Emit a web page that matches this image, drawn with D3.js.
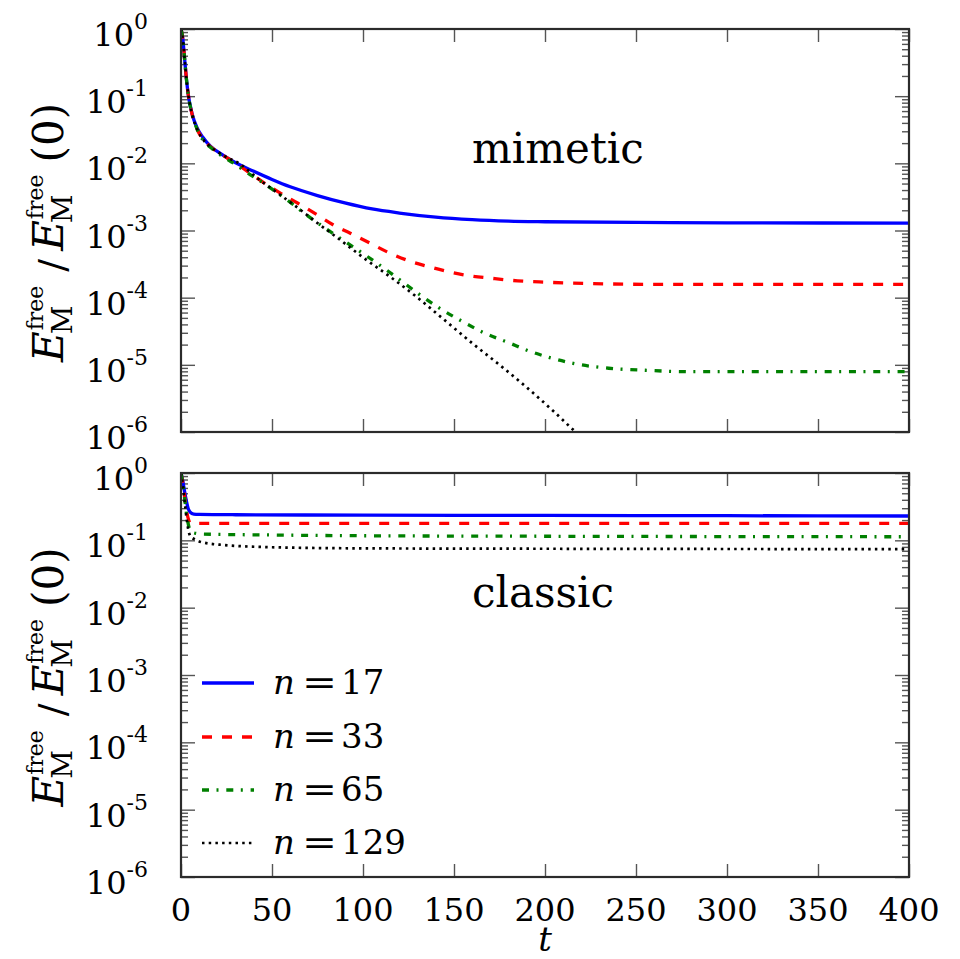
<!DOCTYPE html>
<html><head><meta charset="utf-8">
<script src="https://cdn.jsdelivr.net/npm/d3@7"></script>
<style>body{margin:0;background:#fff}svg{display:block}</style>
</head><body>
<svg id="c" width="960" height="959"></svg>
<script>
// ---------------- data ----------------
const nValues = ["17", "33", "65", "129"];
const colors = ["#0000ff", "#ff0000", "#008000", "#000000"];
const xTicks = [0, 50, 100, 150, 200, 250, 300, 350, 400];
const yDecades = [0, -1, -2, -3, -4, -5, -6];

// mimetic panel
const tM17 = [0, 1, 2, 3, 4, 6, 9, 12, 16, 22, 30, 40, 50, 60, 75, 90, 105, 120, 140, 160, 180, 200, 250, 300, 400];
const vM17 = [1, 0.71, 0.355, 0.178, 0.105, 0.056, 0.033, 0.0245, 0.0182, 0.0138, 0.0102, 0.0076, 0.00575, 0.00447, 0.00331, 0.00257, 0.00209, 0.00182, 0.00158, 0.00145, 0.00138, 0.00135, 0.00132, 0.0013, 0.00129];
const tM33 = [0, 1, 2, 3, 4, 6, 9, 12, 17, 23, 29, 37, 45, 55, 64, 75, 84, 93, 104, 115, 125, 135, 148, 160, 170, 185, 200, 225, 260, 400];
const vM33 = [1, 0.71, 0.355, 0.178, 0.105, 0.055, 0.0316, 0.0229, 0.017, 0.0132, 0.0105, 0.0074, 0.00525, 0.00355, 0.00257, 0.0017, 0.0012, 0.00091, 0.000646, 0.000457, 0.000355, 0.000295, 0.00024, 0.000209, 0.000195, 0.000178, 0.00017, 0.000162, 0.000158, 0.000158];
const tM65 = [0, 1, 2, 3, 4, 6, 9, 12, 17, 23, 29, 36, 45, 53, 61, 69, 80, 91, 102, 113, 123, 133, 144, 155, 167, 180, 192, 205, 218, 235, 255, 280, 400];
const vM65 = [1, 0.71, 0.355, 0.178, 0.105, 0.055, 0.0316, 0.0224, 0.0166, 0.0126, 0.01, 0.0074, 0.00513, 0.00363, 0.00251, 0.0017, 0.00105, 0.00066, 0.000417, 0.000257, 0.000162, 0.000102, 6.46e-5, 4.37e-5, 2.95e-5, 2.14e-5, 1.58e-5, 1.23e-5, 1.02e-5, 8.9e-6, 8.3e-6, 7.9e-6, 7.9e-6];
const tM129 = [0, 1, 2, 3, 4, 6, 9, 12, 17, 23, 33, 42, 53, 64, 75, 86, 102, 115, 129, 143, 160, 176, 190, 205, 216, 222];
const vM129 = [1, 0.71, 0.355, 0.178, 0.105, 0.055, 0.0316, 0.0229, 0.017, 0.0132, 0.00955, 0.006, 0.00363, 0.00219, 0.00129, 0.000776, 0.000363, 0.000204, 0.000105, 5.1e-5, 2.1e-5, 9.5e-6, 4.6e-6, 2.0e-6, 1.05e-6, 7.6e-7];

// classic panel
const tC17 = [0, 1, 2, 3, 4, 5, 7, 10, 30, 100, 200, 300, 400];
const vC17 = [1, 0.76, 0.525, 0.38, 0.295, 0.263, 0.245, 0.243, 0.24, 0.237, 0.234, 0.232, 0.23];
const tC33 = [0, 1, 2, 3, 4, 5, 7, 400];
const vC33 = [1, 0.71, 0.45, 0.28, 0.21, 0.182, 0.178, 0.178];
const tC65 = [0, 1, 2, 3, 4, 5, 7, 12, 50, 100, 200, 400];
const vC65 = [1, 0.69, 0.42, 0.25, 0.174, 0.141, 0.129, 0.124, 0.12, 0.117, 0.115, 0.113];
const tC129 = [0, 1, 2, 3, 4, 5, 8, 12, 24, 50, 100, 200, 400];
const vC129 = [1, 0.68, 0.38, 0.22, 0.145, 0.117, 0.102, 0.093, 0.085, 0.079, 0.076, 0.075, 0.074];

const panelNames = ["mimetic", "classic"];

// ---------------- styles ----------------
const dashes = [null, "10,10", "7,7.5,2,7.8", "2.5,4.2"];
const widths = [3.3, 3.3, 3.3, 2.7];
const SERIF = "'DejaVu Serif', serif";

const svg = d3.select("#c");
const X0 = 181, X1 = 909;
const x = d3.scaleLinear().domain([0, 400]).range([X0, X1]);

const panels = [
  { name: panelNames[0], top: 29, bottom: 432,
    series: [[tM17, vM17], [tM33, vM33], [tM65, vM65], [tM129, vM129]] },
  { name: panelNames[1], top: 473, bottom: 877,
    series: [[tC17, vC17], [tC33, vC33], [tC65, vC65], [tC129, vC129]] }
];

const minors = [];
for (let e = -6; e < 0; e++) for (let k = 2; k <= 9; k++) minors.push(k * Math.pow(10, e));

function styleAxis(g) {
  g.select(".domain").remove();
  g.selectAll(".tick line").attr("stroke", "#555").attr("stroke-width", 1.4);
  g.selectAll(".tick text").remove();
}

function drawYLabel(cy) {
  const g = svg.append("g");
  const inner = g.append("g");
  let u = 0;
  const add = (txt, size, dy, italic) => {
    const t = inner.append("text").attr("x", u).attr("y", dy)
      .attr("font-family", SERIF).attr("font-size", size)
      .attr("font-style", italic ? "italic" : "normal").attr("fill", "#000").text(txt);
    return t.node().getComputedTextLength();
  };
  for (let rep = 0; rep < 2; rep++) {
    const wE = add("E", 42, 0, true);
    const start = u + wE;
    u = start - 3;
    const wM = add("M", 28, 9, false);
    u = start + 1;
    const wF = add("free", 22, -20, false);
    u = Math.max(start - 3 + wM, start + 1 + wF);
    if (rep === 0) {
      u += 14;
      const ws = add("/", 38, 2, false);
      u += ws + 8;
    }
  }
  u += 12;
  const wp = add("(0)", 42, 0, false);
  u += wp;
  inner.attr("transform", `translate(${-u / 2},0)`);
  g.attr("transform", `translate(63,${cy}) rotate(-90)`);
}

panels.forEach((p, pi) => {
  const y = d3.scaleLog().domain([1e-6, 1]).range([p.bottom, p.top]);
  const clipId = "clip" + pi;
  svg.append("clipPath").attr("id", clipId).append("rect")
    .attr("x", X0).attr("y", p.top).attr("width", X1 - X0).attr("height", p.bottom - p.top);

  // ticks
  const decVals = yDecades.map(e => Math.pow(10, e));
  svg.append("g").attr("transform", `translate(${X0},0)`)
    .call(d3.axisLeft(y).tickValues(decVals).tickSize(-14)).call(styleAxis);
  svg.append("g").attr("transform", `translate(${X0},0)`)
    .call(d3.axisLeft(y).tickValues(minors).tickSize(-7)).call(styleAxis);
  svg.append("g").attr("transform", `translate(${X1},0)`)
    .call(d3.axisRight(y).tickValues(decVals).tickSize(-14)).call(styleAxis);
  svg.append("g").attr("transform", `translate(${X1},0)`)
    .call(d3.axisRight(y).tickValues(minors).tickSize(-7)).call(styleAxis);
  svg.append("g").attr("transform", `translate(0,${p.bottom})`)
    .call(d3.axisBottom(x).tickValues(xTicks).tickSize(-13)).call(styleAxis);
  svg.append("g").attr("transform", `translate(0,${p.top})`)
    .call(d3.axisTop(x).tickValues(xTicks).tickSize(-13)).call(styleAxis);

  // curves
  const line = d3.line().x(d => x(d[0])).y(d => y(d[1])).curve(d3.curveMonotoneX);
  const cg = svg.append("g").attr("clip-path", `url(#${clipId})`);
  p.series.forEach((s, i) => {
    const pts = s[0].map((t, k) => [t, s[1][k]]);
    cg.append("path").datum(pts).attr("d", line)
      .attr("fill", "none").attr("stroke", colors[i]).attr("stroke-width", widths[i])
      .attr("stroke-dasharray", dashes[i]);
  });

  // frame
  svg.append("rect").attr("x", X0).attr("y", p.top).attr("width", X1 - X0).attr("height", p.bottom - p.top)
    .attr("fill", "none").attr("stroke", "#2b2b2b").attr("stroke-width", 2.2);

  // y tick labels
  yDecades.forEach(e => {
    const t = svg.append("text").attr("x", 148).attr("y", y(Math.pow(10, e)) + 17)
      .attr("text-anchor", "end").attr("font-family", SERIF).attr("fill", "#000");
    t.append("tspan").attr("font-size", 32).text("10");
    t.append("tspan").attr("font-size", 22).attr("dy", -17).text(e === 0 ? "0" : "-" + (-e));
  });

  // panel title
  svg.append("text").attr("x", 472).attr("y", p.top + 134)
    .attr("font-family", SERIF).attr("font-size", 42).attr("fill", "#000").text(p.name);

  drawYLabel((p.top + p.bottom) / 2 + 2);
});

// x tick labels (bottom panel only)
xTicks.forEach(v => {
  svg.append("text").attr("x", x(v)).attr("y", 921).attr("text-anchor", "middle")
    .attr("font-family", SERIF).attr("font-size", 32).attr("fill", "#000").text(v);
});
svg.append("text").attr("x", (X0 + X1) / 2).attr("y", 951).attr("text-anchor", "middle")
  .attr("font-family", SERIF).attr("font-style", "italic").attr("font-size", 34).attr("fill", "#000").text("t");

// legend
const legY = [683, 737, 790, 843];
nValues.forEach((n, i) => {
  svg.append("line").attr("x1", 202).attr("x2", 254).attr("y1", legY[i]).attr("y2", legY[i])
    .attr("stroke", colors[i]).attr("stroke-width", widths[i]).attr("stroke-dasharray", dashes[i]);
  svg.append("text").attr("x", 273).attr("y", legY[i] + 11)
    .attr("font-family", SERIF).attr("font-size", 34).attr("font-style", "italic").attr("fill", "#000").text("n");
  svg.append("text").attr("x", 302).attr("y", legY[i] + 11)
    .attr("font-family", SERIF).attr("font-size", 34).attr("fill", "#000")
    .attr("textLength", 35).attr("lengthAdjust", "spacingAndGlyphs").text("=");
  svg.append("text").attr("x", 341).attr("y", legY[i] + 11)
    .attr("font-family", SERIF).attr("font-size", 34).attr("fill", "#000").text(n);
});
</script>
</body></html>
